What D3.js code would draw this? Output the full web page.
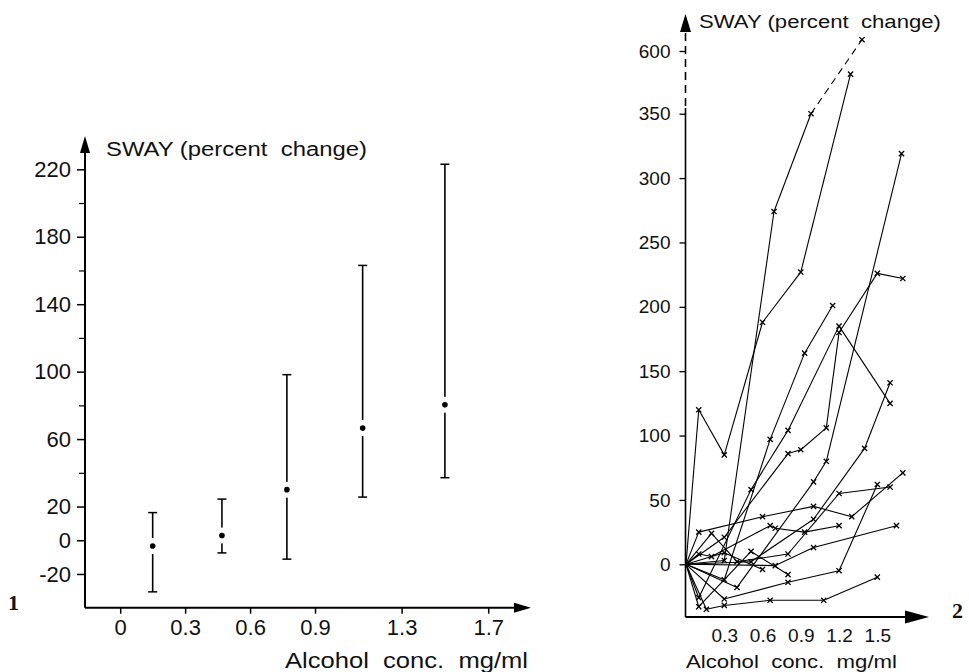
<!DOCTYPE html>
<meta charset="utf-8">
<script src="https://d3js.org/d3.v7.min.js"></script>
<style>
  body { margin: 0; background: #fff; }
  text { font-family: "Liberation Sans", Arial, sans-serif; fill: #111; white-space: pre; }
</style>
<div id="chart"></div>
<script>
// ---- panel 1: mean and range of sway per concentration group
var grpConc = [0.15, 0.47, 0.77, 1.12, 1.50];
var grpMean = [-3.4, 2.8, 30, 66.5, 80.3];
var grpHigh = [16.4, 24.4, 98.2, 163, 223];
var grpLow  = [-30.6, -7.5, -11.2, 25.6, 37.1];
var leftYTicks = [220, 180, 140, 100, 60, 20, 0, -20];
var leftYMinor = [200, 160, 120, 80, 40];
var leftXTicks = [0, 0.3, 0.6, 0.9, 1.3, 1.7];

// ---- panel 2: individual subjects, [conc, sway]
var subj01 = [[0,0],[0.10,120],[0.30,85],[0.60,188],[0.90,227],[1.29,508]];
var subj02 = [[0,0],[0.30,3],[0.69,274],[0.98,350],[1.38,645]];
var subj03 = [[0,0],[0.30,-12],[0.66,97],[0.93,164],[1.15,201]];
var subj04 = [[0,0],[0.10,-26],[0.51,58],[0.80,104],[1.20,185],[1.60,125]];
var subj05 = [[0,0],[0.30,21],[0.80,86],[0.90,89],[1.10,106],[1.20,180],[1.50,226],[1.70,222]];
var subj06 = [[0,0],[0.40,-18],[1.00,64],[1.10,80],[1.69,319]];
var subj07 = [[0,0],[0.51,2],[1.00,35],[1.40,90],[1.60,141]];
var subj08 = [[0,0],[0.16,-35],[0.30,-32],[0.66,-28],[1.08,-28],[1.50,-10]];
var subj09 = [[0,0],[0.70,-1],[1.00,13],[1.65,30]];
var subj10 = [[0,0],[0.30,-27],[0.80,-14],[1.20,-5],[1.50,62]];
var subj11 = [[0,0],[0.10,25],[0.60,37],[1.00,45],[1.30,37],[1.70,71]];
var subj12 = [[0,0],[0.20,24],[0.40,2],[0.80,8],[1.20,55],[1.60,60]];
var subj13 = [[0,0],[0.10,8],[0.20,6],[0.66,30],[0.70,28],[0.93,25],[1.20,30]];
var subj14 = [[0,0],[0.10,-33],[0.51,10],[0.80,-8]];
var subj15 = [[0,0],[0.30,9],[0.60,-4]];
var subjects = [subj01, subj02, subj03, subj04, subj05, subj06, subj07, subj08,
                subj09, subj10, subj11, subj12, subj13, subj14, subj15];
var rightYTicks = [0, 50, 100, 150, 200, 250, 300, 350, 600];
var rightXTicks = [0.3, 0.6, 0.9, 1.2, 1.5];

var svg = d3.select("#chart").append("svg")
    .attr("width", 969)
    .attr("height", 672);

function arrow(g, pts) {
    g.append("path")
        .attr("d", "M" + pts.join("L") + "Z")
        .attr("fill", "#000");
}

// ================= left panel =================
var xL = d3.scaleLinear().domain([0, 1.7]).range([120.2, 488.2]);
var yL = d3.scaleLinear().domain([-40, 220]).range([607.7, 169.3]);
var left = svg.append("g");
var ax0 = 85;

left.append("line")
    .attr("x1", ax0).attr("x2", ax0)
    .attr("y1", yL(-40)).attr("y2", 150)
    .attr("stroke", "#000").attr("stroke-width", 2);
arrow(left, [[ax0, 136], [ax0 - 5, 153], [ax0 + 5, 153]]);

left.append("line")
    .attr("x1", ax0).attr("x2", 516)
    .attr("y1", yL(-40)).attr("y2", yL(-40))
    .attr("stroke", "#000").attr("stroke-width", 2);
arrow(left, [[531, yL(-40)], [514, yL(-40) - 5], [514, yL(-40) + 5]]);

var yAxL = left.append("g")
    .attr("transform", "translate(" + ax0 + ",0)")
    .call(d3.axisLeft(yL).tickValues(leftYTicks).tickSize(8).tickPadding(6)
        .tickFormat(function(d) { return String(d); }));
yAxL.select(".domain").remove();
yAxL.selectAll("text").style("font-size", "22px").attr("font-family", null);
yAxL.selectAll("line").attr("stroke-width", 1.5);

var yMinL = left.append("g")
    .attr("transform", "translate(" + ax0 + ",0)")
    .call(d3.axisLeft(yL).tickValues(leftYMinor).tickSize(6).tickFormat(""));
yMinL.select(".domain").remove();
yMinL.selectAll("line").attr("stroke-width", 1.2);

var xAxL = left.append("g")
    .attr("transform", "translate(0," + yL(-40) + ")")
    .call(d3.axisBottom(xL).tickValues(leftXTicks).tickSize(6).tickPadding(5.5)
        .tickFormat(function(d) { return String(d); }));
xAxL.select(".domain").remove();
xAxL.selectAll("text").style("font-size", "22px").attr("font-family", null);
xAxL.selectAll("line").attr("stroke-width", 1.5);

left.append("text")
    .attr("x", 106).attr("y", 156)
    .attr("textLength", 261).attr("lengthAdjust", "spacingAndGlyphs")
    .style("font-size", "20px")
    .text("SWAY (percent  change)");

left.append("text")
    .attr("x", 285).attr("y", 668)
    .attr("textLength", 243).attr("lengthAdjust", "spacingAndGlyphs")
    .style("font-size", "22px")
    .text("Alcohol  conc.  mg/ml");

left.append("text")
    .attr("x", 8).attr("y", 610)
    .style("font-family", "'Liberation Serif', serif")
    .style("font-weight", "bold")
    .style("font-size", "22px")
    .text("1");

// error bars
var bars = left.selectAll(".bar").data(grpConc).enter().append("g");
bars.append("line")
    .attr("x1", function(d) { return xL(d); })
    .attr("x2", function(d) { return xL(d); })
    .attr("y1", function(d, i) { return yL(grpLow[i]); })
    .attr("y2", function(d, i) { return yL(grpHigh[i]); })
    .attr("stroke", "#000").attr("stroke-width", 1.6);
bars.selectAll(".cap")
    .data(function(d, i) { return [[d, grpLow[i]], [d, grpHigh[i]]]; })
    .enter().append("line")
    .attr("x1", function(d) { return xL(d[0]) - 4.5; })
    .attr("x2", function(d) { return xL(d[0]) + 4.5; })
    .attr("y1", function(d) { return yL(d[1]); })
    .attr("y2", function(d) { return yL(d[1]); })
    .attr("stroke", "#000").attr("stroke-width", 1.5);
bars.append("circle")
    .attr("cx", function(d) { return xL(d); })
    .attr("cy", function(d, i) { return yL(grpMean[i]); })
    .attr("r", 8).attr("fill", "#fff");
bars.append("circle")
    .attr("cx", function(d) { return xL(d); })
    .attr("cy", function(d, i) { return yL(grpMean[i]); })
    .attr("r", 2.8).attr("fill", "#000");

// ================= right panel =================
var xR = d3.scaleLinear().domain([0, 1.5]).range([686, 877.3]);
var yR = d3.scaleLinear().domain([-41, 0, 350, 600]).range([617, 564.3, 113.7, 51]);
var right = svg.append("g");
var ax1 = 685.5;

right.append("line")
    .attr("x1", ax1).attr("x2", ax1)
    .attr("y1", yR(-41)).attr("y2", 108)
    .attr("stroke", "#000").attr("stroke-width", 1.6);
right.append("line")
    .attr("x1", ax1).attr("x2", ax1)
    .attr("y1", 106).attr("y2", 30)
    .attr("stroke", "#000").attr("stroke-width", 1.6)
    .attr("stroke-dasharray", "8,5");
arrow(right, [[ax1, 14], [ax1 - 5.5, 32], [ax1 + 5.5, 32]]);

right.append("line")
    .attr("x1", ax1).attr("x2", 908)
    .attr("y1", yR(-41)).attr("y2", yR(-41))
    .attr("stroke", "#000").attr("stroke-width", 1.8);
arrow(right, [[929, yR(-41)], [905, yR(-41) - 6.5], [905, yR(-41) + 6.5]]);

var yAxR = right.append("g")
    .attr("transform", "translate(" + ax1 + ",0)")
    .call(d3.axisLeft(yR).tickValues(rightYTicks).tickSize(6).tickPadding(9)
        .tickFormat(function(d) { return String(d); }));
yAxR.select(".domain").remove();
yAxR.selectAll("text").style("font-size", "19px").attr("font-family", null);
yAxR.selectAll("line").attr("stroke-width", 1.3);

var xAxR = right.append("g")
    .attr("transform", "translate(0," + yR(-41) + ")")
    .call(d3.axisBottom(xR).tickValues(rightXTicks).tickSize(0).tickPadding(11.5)
        .tickFormat(function(d) { return String(d); }));
xAxR.select(".domain").remove();
xAxR.selectAll("text").style("font-size", "19px").attr("font-family", null);

right.append("text")
    .attr("x", 699).attr("y", 28)
    .attr("textLength", 242).attr("lengthAdjust", "spacingAndGlyphs")
    .style("font-size", "18px")
    .text("SWAY (percent  change)");

right.append("text")
    .attr("x", 686).attr("y", 668)
    .attr("textLength", 211).attr("lengthAdjust", "spacingAndGlyphs")
    .style("font-size", "19px")
    .text("Alcohol  conc.  mg/ml");

right.append("text")
    .attr("x", 952).attr("y", 618)
    .style("font-family", "'Liberation Serif', serif")
    .style("font-weight", "bold")
    .style("font-size", "22px")
    .text("2");

// subject lines; the part past 350 on subject 2 is drawn dashed (off scale)
var segs = [];
subjects.forEach(function(s, k) {
    for (var i = 1; i < s.length; i++) {
        segs.push({a: s[i - 1], b: s[i], dashed: (k === 1 && s[i][1] > 600)});
    }
});
right.selectAll(".seg").data(segs).enter().append("line")
    .attr("x1", function(d) { return xR(d.a[0]); })
    .attr("y1", function(d) { return yR(d.a[1]); })
    .attr("x2", function(d) { return xR(d.b[0]); })
    .attr("y2", function(d) { return yR(d.b[1]); })
    .attr("stroke", "#000").attr("stroke-width", 1.1)
    .attr("stroke-dasharray", function(d) { return d.dashed ? "7,5" : null; });

var marks = [];
subjects.forEach(function(s) { s.slice(1).forEach(function(p) { marks.push(p); }); });
right.selectAll(".mark").data(marks).enter().append("path")
    .attr("d", function(d) {
        var x = xR(d[0]), y = yR(d[1]), r = 2.6;
        return "M" + (x - r) + "," + (y - r) + "L" + (x + r) + "," + (y + r) +
               "M" + (x - r) + "," + (y + r) + "L" + (x + r) + "," + (y - r);
    })
    .attr("stroke", "#000").attr("stroke-width", 1.3);
</script>
